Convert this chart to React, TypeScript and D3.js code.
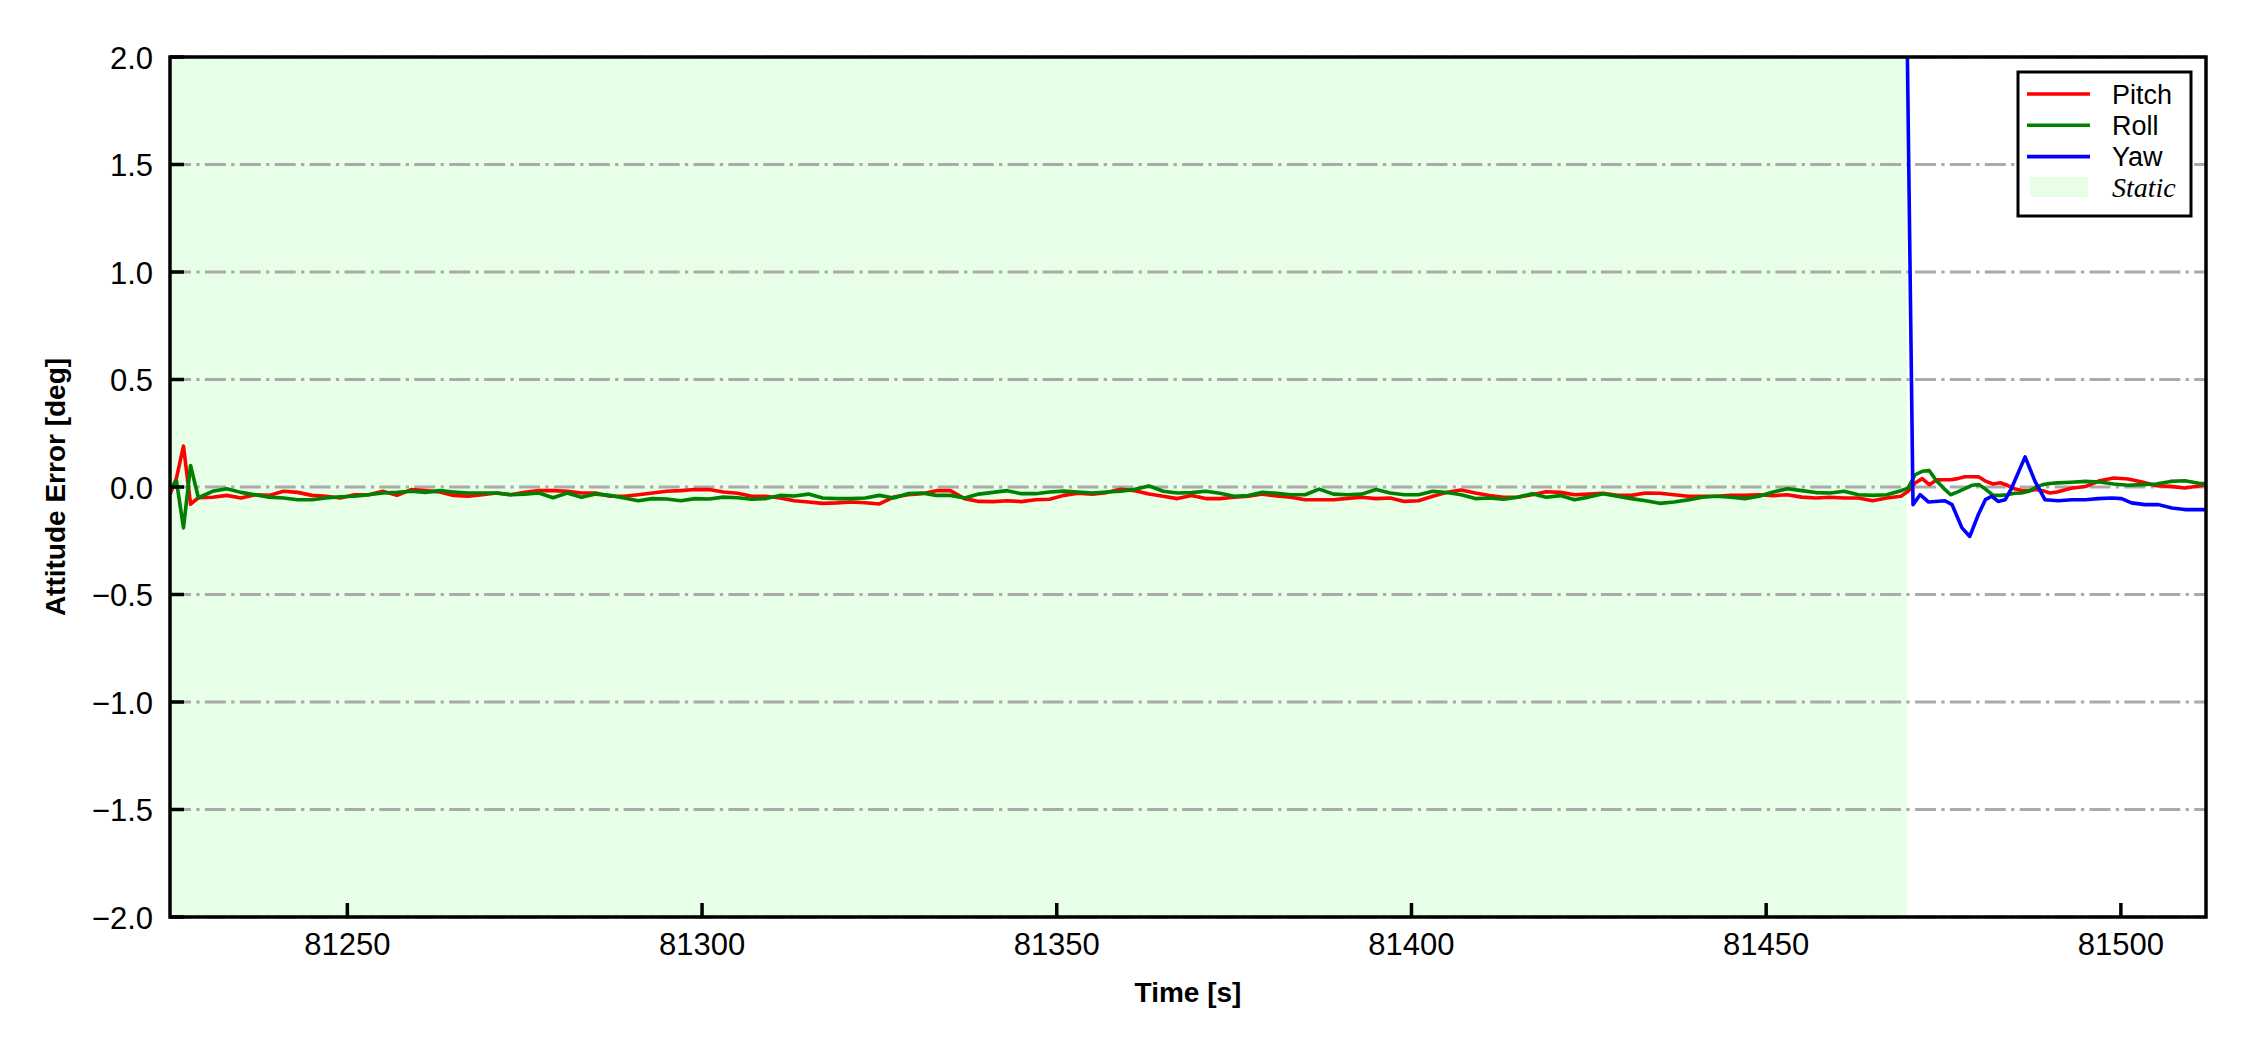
import * as d3 from "d3"

// sample times shared by pitch and roll [s]
const time = [
	81225, 81225.9, 81226.9, 81227.9, 81229,
	81231, 81233, 81235, 81237, 81239, 81241, 81243, 81245, 81247, 81249,
	81251, 81253, 81255, 81257, 81259, 81261, 81263, 81265, 81267, 81269,
	81271, 81273, 81275, 81277, 81279, 81281, 81283, 81285, 81287, 81289,
	81291, 81293, 81295, 81297,
	81299, 81301, 81303, 81305, 81307, 81309, 81311, 81313, 81315, 81317,
	81319, 81321, 81323, 81325, 81327, 81329, 81331, 81333, 81335, 81337,
	81339, 81341, 81343, 81345, 81347, 81349, 81351, 81353, 81355, 81357,
	81359, 81361, 81363, 81365, 81367, 81369,
	81371, 81373, 81375, 81377, 81379, 81381, 81383, 81385, 81387, 81389,
	81391, 81393, 81395, 81397, 81399, 81401, 81403, 81405, 81407, 81409,
	81411, 81413, 81415, 81417, 81419, 81421, 81423, 81425, 81427, 81429,
	81431, 81433, 81435, 81437, 81439, 81441,
	81443, 81445, 81447, 81449, 81451, 81453, 81455, 81457, 81459, 81461,
	81463, 81465, 81467, 81469,
	81470, 81471, 81472, 81473, 81474, 81475, 81476, 81477, 81478, 81479,
	81480, 81481, 81482, 81483, 81484, 81485, 81486, 81487, 81488, 81489, 81490,
	81491, 81493, 81495, 81497, 81499, 81501, 81503, 81505, 81507, 81509, 81511, 81513,
]

const pitch = [
	-0.035, 0.04, 0.19, -0.08, -0.05,
	-0.048, -0.039, -0.051, -0.036, -0.039, -0.02, -0.025, -0.039, -0.043, -0.051,
	-0.036, -0.036, -0.02, -0.039, -0.012, -0.017, -0.023, -0.039, -0.043, -0.036,
	-0.028, -0.036, -0.025, -0.016, -0.017, -0.02, -0.028, -0.028, -0.043, -0.043,
	-0.036, -0.028, -0.02, -0.017,
	-0.012, -0.012, -0.023, -0.029, -0.043, -0.043, -0.051, -0.064, -0.07, -0.076,
	-0.074, -0.07, -0.073, -0.079, -0.047, -0.036, -0.031, -0.017, -0.017, -0.054,
	-0.067, -0.068, -0.064, -0.068, -0.059, -0.057, -0.039, -0.029, -0.033, -0.026,
	-0.011, -0.017, -0.033, -0.043, -0.054, -0.04,
	-0.054, -0.054, -0.048, -0.043, -0.033, -0.042, -0.048, -0.059, -0.059, -0.059,
	-0.053, -0.048, -0.054, -0.051, -0.067, -0.064, -0.043, -0.025, -0.014, -0.028,
	-0.04, -0.048, -0.047, -0.036, -0.022, -0.025, -0.036, -0.033, -0.029, -0.039,
	-0.039, -0.028, -0.029, -0.036, -0.043, -0.043,
	-0.043, -0.039, -0.039, -0.036, -0.04, -0.036, -0.047, -0.051, -0.048, -0.051,
	-0.051, -0.064, -0.051, -0.043,
	-0.02, 0.019, 0.039, 0.011, 0.033, 0.034, 0.034, 0.039, 0.048, 0.048,
	0.047, 0.026, 0.014, 0.02, 0.008, -0.008, -0.016, -0.017, -0.012, -0.017, -0.028,
	-0.023, -0.006, 0.002, 0.029, 0.042, 0.037, 0.023, 0.006, 0.003, -0.005, 0.005, 0.014,
]

const roll = [
	-0.01, 0.03, -0.19, 0.1, -0.05,
	-0.02, -0.008, -0.025, -0.036, -0.047, -0.051, -0.059, -0.059, -0.051, -0.045,
	-0.043, -0.036, -0.028, -0.025, -0.02, -0.025, -0.017, -0.023, -0.028, -0.028,
	-0.028, -0.036, -0.033, -0.028, -0.05, -0.028, -0.048, -0.033, -0.039, -0.051,
	-0.064, -0.054, -0.056, -0.064,
	-0.054, -0.056, -0.047, -0.05, -0.057, -0.054, -0.039, -0.042, -0.033, -0.051,
	-0.054, -0.054, -0.051, -0.039, -0.051, -0.031, -0.028, -0.039, -0.039, -0.051,
	-0.033, -0.025, -0.017, -0.031, -0.031, -0.023, -0.019, -0.023, -0.028, -0.023,
	-0.02, -0.011, 0.005, -0.02, -0.028, -0.026,
	-0.02, -0.029, -0.043, -0.04, -0.025, -0.029, -0.036, -0.036, -0.01, -0.033,
	-0.036, -0.033, -0.012, -0.028, -0.036, -0.036, -0.02, -0.026, -0.036, -0.054,
	-0.051, -0.057, -0.048, -0.031, -0.048, -0.04, -0.059, -0.047, -0.031, -0.043,
	-0.054, -0.064, -0.076, -0.07, -0.06, -0.048,
	-0.043, -0.048, -0.054, -0.043, -0.023, -0.008, -0.017, -0.026, -0.028, -0.02,
	-0.036, -0.039, -0.036, -0.017,
	-0.005, 0.057, 0.073, 0.076, 0.029, -0.005, -0.036, -0.023, -0.008, 0.008,
	0.011, -0.012, -0.039, -0.039, -0.036, -0.029, -0.028, -0.02, -0.002, 0.011, 0.016,
	0.019, 0.022, 0.026, 0.023, 0.014, 0.008, 0.011, 0.014, 0.026, 0.029, 0.017, 0.014,
]

// yaw only after the static phase
const yawTime = [
	81469.7, 81470.7, 81471.7, 81472.9, 81475.2, 81476.2, 81477.6, 81478.7, 81479.9, 81480.9,
	81481.8, 81482.7, 81483.7, 81484.6, 81486.5, 81487.9, 81489.3, 81491.2, 81493.1, 81495,
	81496.8, 81498.7, 81500.1, 81501.5, 81503.4, 81505.3, 81507.2, 81509, 81511.4, 81513,
]
const yaw = [
	2.55, -0.082, -0.036, -0.07, -0.064, -0.082, -0.19, -0.23, -0.129, -0.059,
	-0.043, -0.067, -0.059, -0.005, 0.14, 0.026, -0.059, -0.064, -0.059, -0.059,
	-0.054, -0.051, -0.054, -0.074, -0.082, -0.082, -0.098, -0.105, -0.105, -0.105,
]

const staticSpan = [81225, 81469.8]
const xTicks = [81250, 81300, 81350, 81400, 81450, 81500]
const yTicks = [-2, -1.5, -1, -0.5, 0, 0.5, 1, 1.5, 2]

const W = 2250
const H = 1050
const left = 170
const right = 2206
const top = 57
const bottom = 917

const FONT = "'Liberation Sans', Arial, sans-serif"
const STATIC_FILL = "#e6ffe6"

const App = () => {
	const x = d3.scaleLinear().domain([81225, 81512]).range([left, right])
	const y = d3.scaleLinear().domain([-2, 2]).range([bottom, top])

	const line = d3
		.line<number[]>()
		.x((d) => x(d[0]))
		.y((d) => y(d[1]))

	const pitchPath = line(time.map((t, i) => [t, pitch[i]]))
	const rollPath = line(time.map((t, i) => [t, roll[i]]))
	const yawPath = line(yawTime.map((t, i) => [t, yaw[i]]))

	const fmtY = (v: number) => (v < 0 ? "\u2212" : "") + Math.abs(v).toFixed(1)

	const lw = 3.6
	const legendItems = [
		{ label: "Pitch", color: "red" },
		{ label: "Roll", color: "green" },
		{ label: "Yaw", color: "blue" },
	]

	return (
		<svg width={W} height={H} style={{ position: "absolute", left: 0, top: 0, background: "white" }}>
			<defs>
				<clipPath id="plotClip">
					<rect x={left} y={top} width={right - left} height={bottom - top} />
				</clipPath>
			</defs>
			<rect x={0} y={0} width={W} height={H} fill="white" />

			{/* static phase */}
			<rect
				x={x(staticSpan[0])}
				y={top}
				width={x(staticSpan[1]) - x(staticSpan[0])}
				height={bottom - top}
				fill={STATIC_FILL}
			/>

			{/* horizontal grid */}
			{yTicks.map((v) => (
				<line
					key={"g" + v}
					x1={left}
					x2={right}
					y1={y(v)}
					y2={y(v)}
					stroke="#aaaaaa"
					strokeWidth={3.2}
					strokeDasharray="21,5.3,3.3,5.3"
				/>
			))}

			<g clipPath="url(#plotClip)" fill="none" strokeWidth={lw} strokeLinejoin="round">
				<path d={pitchPath ?? ""} stroke="red" />
				<path d={rollPath ?? ""} stroke="green" />
				<path d={yawPath ?? ""} stroke="blue" />
			</g>

			{/* frame */}
			<rect x={left} y={top} width={right - left} height={bottom - top} fill="none" stroke="black" strokeWidth={3.5} />

			{/* x ticks (inward) */}
			{xTicks.map((t) => (
				<g key={"x" + t}>
					<line x1={x(t)} x2={x(t)} y1={bottom} y2={bottom - 14} stroke="black" strokeWidth={3.5} />
					<text x={x(t)} y={955} textAnchor="middle" fontFamily={FONT} fontSize={31}>
						{t}
					</text>
				</g>
			))}

			{/* y ticks (inward) */}
			{yTicks.map((v) => (
				<g key={"y" + v}>
					<line x1={left} x2={left + 14} y1={y(v)} y2={y(v)} stroke="black" strokeWidth={3.5} />
					<text x={153} y={y(v) + 11.5} textAnchor="end" fontFamily={FONT} fontSize={31}>
						{fmtY(v)}
					</text>
				</g>
			))}

			{/* axis labels */}
			<text x={(left + right) / 2} y={1002} textAnchor="middle" fontFamily={FONT} fontSize={28} fontWeight="bold">
				Time [s]
			</text>
			<text
				transform={`translate(65,${(top + bottom) / 2}) rotate(-90)`}
				textAnchor="middle"
				fontFamily={FONT}
				fontSize={28}
				fontWeight="bold"
			>
				Attitude Error [deg]
			</text>

			{/* legend */}
			<g>
				<rect x={2018} y={72} width={173} height={144} fill="white" stroke="black" strokeWidth={3} />
				{legendItems.map((it, i) => (
					<g key={it.label}>
						<line x1={2027} x2={2090} y1={94 + i * 31.3} y2={94 + i * 31.3} stroke={it.color} strokeWidth={lw} />
						<text x={2112} y={104 + i * 31} fontFamily={FONT} fontSize={27}>
							{it.label}
						</text>
					</g>
				))}
				<rect x={2030} y={177} width={58} height={20} fill={STATIC_FILL} />
				<text x={2112} y={197} fontFamily="'Liberation Serif', 'Times New Roman', serif" fontStyle="italic" fontSize={28}>
					Static
				</text>
			</g>
		</svg>
	)
}

export default App
